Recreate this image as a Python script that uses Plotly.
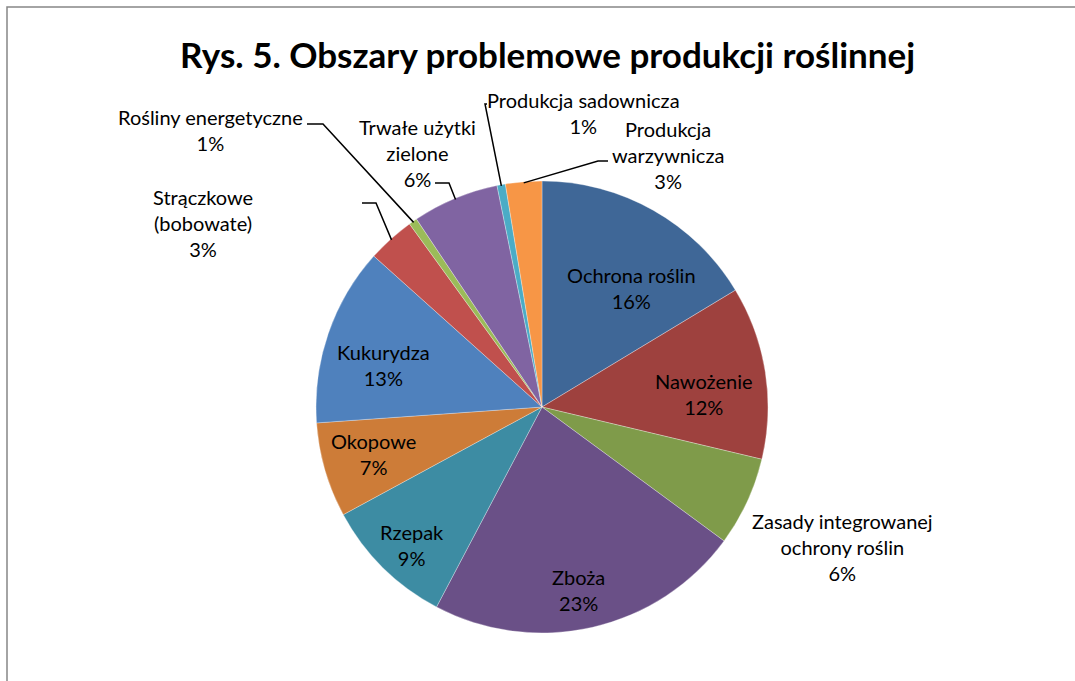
import math
import plotly.graph_objects as go

# ---- data ----
labels = ["Ochrona roślin", "Nawożenie", "Zasady integrowanej ochrony roślin", "Zboża",
          "Rzepak", "Okopowe", "Kukurydza", "Strączkowe (bobowate)", "Rośliny energetyczne",
          "Trwałe użytki zielone", "Produkcja sadownicza", "Produkcja warzywnicza"]
values = [16.4, 12.4, 6.4, 22.7, 9.4, 6.8, 12.8, 3.4, 0.6, 6.2, 0.6, 2.6]
colors = ["#3F6797", "#9E413E", "#7F9B4A", "#6A5087", "#3D8CA3", "#CD7C38",
          "#4F81BD", "#C0504D", "#9BBB59", "#8064A2", "#4BACC6", "#F79646"]
title = "Rys. 5. Obszary problemowe produkcji roślinnej"

# ---- layout geometry (pixels) ----
W, H = 1075, 681
CX, CY, R = 542, 407, 226
FONT = "Lato"
FS = 20

def px(x):
    return x / W

def py(y):
    return 1 - y / H

fig = go.Figure(go.Pie(
    labels=labels, values=values, sort=False, direction="clockwise", rotation=0,
    marker=dict(colors=colors, line=dict(color="rgba(255,255,255,0.5)", width=0.6)),
    textinfo="none", showlegend=False, hoverinfo="label+percent",
    domain=dict(x=[px(CX - R), px(CX + R)], y=[py(CY + R), py(CY - R)]),
))

total = sum(values)
cum = 0
mids = []
for v in values:
    mids.append(360 * (cum + v / 2) / total)
    cum += v

def pct(i):
    return f"{round(100 * values[i] / total):.0f}%"

def anchor(i, k=0.995):
    a = math.radians(mids[i])
    return CX + R * k * math.sin(a), CY - R * k * math.cos(a)

# label placement: index, text lines, text centre, leader start, elbow x
placements = [
    (0, ["Ochrona roślin"], (631, 288), None, None),
    (1, ["Nawożenie"], (704, 394), None, None),
    (3, ["Zboża"], (578, 590), None, None),
    (4, ["Rzepak"], (412, 545), None, None),
    (5, ["Okopowe"], (373, 454), None, None),
    (6, ["Kukurydza"], (383, 365), None, None),
    (8, ["Rośliny energetyczne"], (210, 130), (307, 124), 323),
    (7, ["Strączkowe", "(bobowate)"], (203, 222.5), (362, 203), 376),
    (9, ["Trwałe użytki", "zielone"], (417, 153.5), (435, 183), 449),
    (10, ["Produkcja sadownicza"], (583, 113), (487, 104), 485),
    (11, ["Produkcja", "warzywnicza"], (668, 154.5), (608, 161), 598),
    (2, ["Zasady integrowanej", "ochrony roślin"], (842, 546.5), None, None),
]

shapes = []
annotations = []
for i, lines, (tx, ty), start, elbow in placements:
    annotations.append(dict(
        x=px(tx), y=py(ty), xref="paper", yref="paper", showarrow=False,
        text="<br>".join(lines + [pct(i)]), align="center",
        font=dict(family=FONT, size=FS, color="#000000"),
        xanchor="center", yanchor="middle"))
    if start is not None:
        ax, ay = anchor(i)
        path = (f"M {px(start[0])},{py(start[1])} L {px(elbow)},{py(start[1])} "
                f"L {px(ax)},{py(ay)}")
        shapes.append(dict(type="path", xref="paper", yref="paper", path=path,
                           line=dict(color="#000000", width=1.5)))

# chart frame
shapes.append(dict(type="rect", xref="paper", yref="paper",
                   x0=px(7), y0=-0.05, x1=1.05, y1=py(7),
                   line=dict(color="#868686", width=1.5), fillcolor="rgba(0,0,0,0)"))

annotations.append(dict(
    x=px(547), y=py(54), xref="paper", yref="paper", showarrow=False,
    text=f"<b>{title}</b>", font=dict(family=FONT, size=35, color="#000000"),
    xanchor="center", yanchor="middle"))

fig.update_layout(
    width=W, height=H, margin=dict(l=0, r=0, t=0, b=0),
    paper_bgcolor="white", plot_bgcolor="white",
    shapes=shapes, annotations=annotations,
)

fig.write_html("out.html", config={"displayModeBar": False},
               post_script="document.body.style.margin='0px';")
